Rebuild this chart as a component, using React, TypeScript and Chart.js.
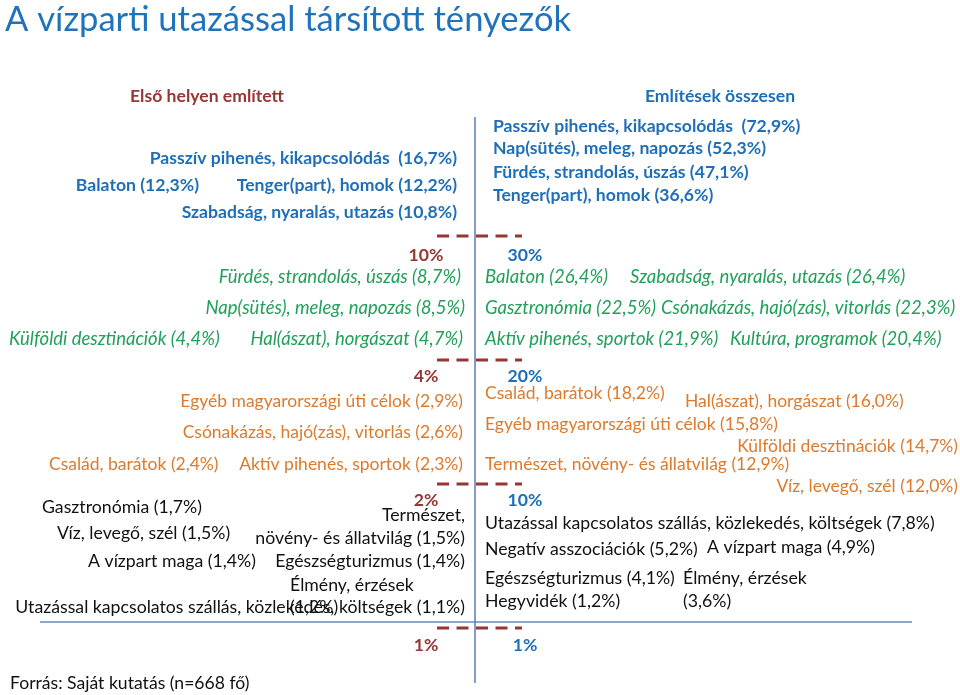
import React, { useEffect, useRef } from "react";
import { Chart, registerables } from "chart.js";

Chart.register(...registerables);

// ---------- DATA ----------
const titleText = "A vízparti utazással társított tényezők";
const leftHeader = "Első helyen említett";
const rightHeader = "Említések összesen";
const sourceText = "Forrás: Saját kutatás (n=668 fő)";

// band thresholds (tick labels on the central axis)
const leftBands = [10, 4, 2, 1];
const rightBands = [30, 20, 10, 1];

const firstNames = [
  "Passzív pihenés, kikapcsolódás ",
  "Balaton",
  "Tenger(part), homok",
  "Szabadság, nyaralás, utazás",
  "Fürdés, strandolás, úszás",
  "Nap(sütés), meleg, napozás",
  "Külföldi desztinációk",
  "Hal(ászat), horgászat",
  "Egyéb magyarországi úti célok",
  "Csónakázás, hajó(zás), vitorlás",
  "Család, barátok",
  "Aktív pihenés, sportok",
  "Gasztronómia",
  "Természet, növény- és állatvilág",
  "Víz, levegő, szél",
  "A vízpart maga",
  "Egészségturizmus",
  "Élmény, érzések",
  "Utazással kapcsolatos szállás, közlekedés, költségek",
];
const firstValues = [16.7, 12.3, 12.2, 10.8, 8.7, 8.5, 4.4, 4.7, 2.9, 2.6, 2.4, 2.3, 1.7, 1.5, 1.5, 1.4, 1.4, 1.2, 1.1];

const totalNames = [
  "Passzív pihenés, kikapcsolódás ",
  "Nap(sütés), meleg, napozás",
  "Fürdés, strandolás, úszás",
  "Tenger(part), homok",
  "Balaton",
  "Szabadság, nyaralás, utazás",
  "Gasztronómia",
  "Csónakázás, hajó(zás), vitorlás",
  "Aktív pihenés, sportok",
  "Kultúra, programok",
  "Család, barátok",
  "Hal(ászat), horgászat",
  "Egyéb magyarországi úti célok",
  "Külföldi desztinációk",
  "Természet, növény- és állatvilág",
  "Víz, levegő, szél",
  "Utazással kapcsolatos szállás, közlekedés, költségek",
  "Negatív asszociációk",
  "A vízpart maga",
  "Egészségturizmus",
  "Élmény, érzések",
  "Hegyvidék",
];
const totalValues = [72.9, 52.3, 47.1, 36.6, 26.4, 26.4, 22.5, 22.3, 21.9, 20.4, 18.2, 16.0, 15.8, 14.7, 12.9, 12.0, 7.8, 5.2, 4.9, 4.1, 3.6, 1.2];

// ---------- LAYOUT (layout units on a 960 x 695 grid) ----------
type Slot = [number, number, "left" | "right" | "center", string?, number?];
const firstLayout: Slot[] = [
  [457, 158, "right"],
  [199, 185, "right"],
  [457, 185, "right"],
  [457, 212, "right"],
  [461, 277, "right"],
  [465, 308, "right"],
  [9, 339, "left"],
  [463, 339, "right"],
  [463, 401, "right"],
  [463, 432, "right"],
  [49, 464, "left"],
  [463, 464, "right"],
  [42, 507, "left"],
  [465, 515, "right", "name", 23],
  [57, 533, "left"],
  [88, 561, "left"],
  [465, 561, "right"],
  [290, 585, "left", "value", 22],
  [465, 607, "right"],
];
const totalLayout: Slot[] = [
  [493, 126, "left"],
  [493, 148, "left"],
  [493, 172, "left"],
  [493, 195, "left"],
  [485, 277, "left"],
  [630, 277, "left"],
  [485, 308, "left"],
  [661, 308, "left"],
  [485, 339, "left"],
  [730, 339, "left"],
  [485, 393, "left"],
  [685, 401, "left"],
  [485, 424, "left"],
  [958, 446, "right"],
  [485, 464, "left"],
  [958, 486, "right"],
  [485, 523, "left"],
  [485, 549, "left"],
  [707, 547, "left"],
  [485, 578, "left"],
  [683, 578, "left", "value", 23],
  [485, 601, "left"],
];
const tickRows = [236, 360, 484, 628];
const tickLabelRows = [255, 376, 500, 645];

// ---------- STYLE ----------
const FONT = "Lato, 'Noto Sans', sans-serif";
const BLUE = "#1F6FB8";
const RED = "#953735";
const GREEN = "#22A05A";
const ORANGE = "#DD7A2C";
const BLACK = "#111111";
const bandStyles = [
  { color: BLUE, font: `bold 17.6px ${FONT}` },
  { color: GREEN, font: `italic 18.5px ${FONT}` },
  { color: ORANGE, font: `17.5px ${FONT}` },
  { color: BLACK, font: `17.7px ${FONT}` },
];

const fmt = (v: number) => v.toFixed(1).replace(".", ",") + "%";

function bandOf(v: number, bands: number[]) {
  for (let i = 0; i < bands.length; i++) if (v >= bands[i]) return i;
  return bands.length - 1;
}

type TextItem = {
  lines: string[];
  align: "left" | "right" | "center";
  color: string;
  font: string;
  gap: number;
  x: number;
  y: number;
};

function buildItems(names: string[], values: number[], layout: Slot[], bands: number[]): TextItem[] {
  return names.map((n, i) => {
    const [x, y, align, wrap, gap] = layout[i];
    const label = `${n} (${fmt(values[i])})`;
    let lines = [label];
    if (wrap === "name") {
      const k = n.indexOf(", ");
      lines = [n.slice(0, k + 1), `${n.slice(k + 2)} (${fmt(values[i])})`];
    } else if (wrap === "value") {
      lines = [n, `(${fmt(values[i])})`];
    }
    const st = bandStyles[bandOf(values[i], bands)];
    return { lines, align, color: st.color, font: st.font, gap: gap || 0, x, y };
  });
}

export default function App() {
  const ref = useRef<HTMLCanvasElement | null>(null);

  useEffect(() => {
    document.body.style.margin = "0";
    document.body.style.overflow = "hidden";
    const canvas = ref.current;
    if (!canvas) return;

    const items: TextItem[] = [
      { lines: [titleText], align: "left", color: "#1F73BA", font: `34.6px ${FONT}`, gap: 0, x: 5, y: 20 },
      { lines: [leftHeader], align: "center", color: RED, font: `bold 17.6px ${FONT}`, gap: 0, x: 207, y: 96 },
      { lines: [rightHeader], align: "center", color: BLUE, font: `bold 17.6px ${FONT}`, gap: 0, x: 720, y: 96 },
      ...buildItems(firstNames, firstValues, firstLayout, leftBands),
      ...buildItems(totalNames, totalValues, totalLayout, rightBands),
      ...leftBands.map((b, i) => ({ lines: [`${b}%`], align: "center" as const, color: RED, font: `bold 17.6px ${FONT}`, gap: 0, x: 426, y: tickLabelRows[i] })),
      ...rightBands.map((b, i) => ({ lines: [`${b}%`], align: "center" as const, color: BLUE, font: `bold 17.6px ${FONT}`, gap: 0, x: 525, y: tickLabelRows[i] })),
      { lines: [sourceText], align: "left", color: BLACK, font: `17.6px ${FONT}`, gap: 0, x: 10, y: 683 },
    ];

    const lineDs = (pts: { x: number; y: number }[], color: string, width: number, dash: number[] = []) => ({
      type: "scatter" as const,
      data: pts,
      showLine: true,
      borderColor: color,
      borderWidth: width,
      borderDash: dash,
      pointRadius: 0,
      fill: false,
      clip: false as any,
    });

    const datasets: any[] = [
      lineDs([{ x: 475, y: 117 }, { x: 475, y: 683 }], "#5A7EB5", 1.5),
      lineDs([{ x: 40, y: 622 }, { x: 912, y: 622 }], "#8EA8C8", 2),
      ...tickRows.map((r) => lineDs([{ x: 437, y: r }, { x: 522, y: r }], RED, 3, [12, 7.5])),
      {
        type: "scatter",
        label: "labels",
        data: items.map((it) => ({ x: it.x, y: it.y })),
        pointRadius: 0,
        showLine: false,
        clip: false,
      },
    ];
    const textIndex = datasets.length - 1;

    const textPlugin = {
      id: "textLabels",
      afterDatasetsDraw(chart: any) {
        const ctx = chart.ctx;
        const meta = chart.getDatasetMeta(textIndex);
        ctx.save();
        ctx.textBaseline = "middle";
        items.forEach((it, i) => {
          const p = meta.data[i];
          ctx.font = it.font;
          ctx.fillStyle = it.color;
          ctx.textAlign = it.align;
          it.lines.forEach((ln, j) => ctx.fillText(ln, p.x, p.y + j * it.gap));
        });
        ctx.restore();
      },
    };

    const chart = new Chart(canvas, {
      type: "scatter",
      data: { datasets },
      options: {
        animation: false,
        responsive: false,
        maintainAspectRatio: false,
        layout: { padding: 0 },
        scales: {
          x: { type: "linear", min: 0, max: 960, display: false },
          y: { type: "linear", min: 0, max: 695, reverse: true, display: false },
        },
        plugins: { legend: { display: false }, tooltip: { enabled: false } },
      },
      plugins: [textPlugin],
    });
    return () => chart.destroy();
  }, []);

  return (
    <div style={{ width: 960, height: 695, background: "#ffffff" }}>
      <canvas ref={ref} width={960} height={695} style={{ display: "block" }} />
    </div>
  );
}
